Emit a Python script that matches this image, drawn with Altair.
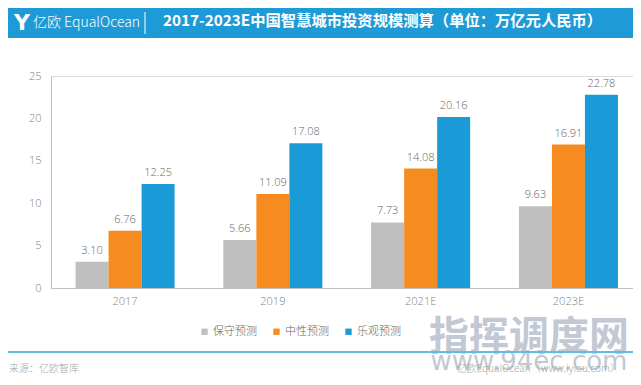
import altair as alt
import pandas as pd

years = ["2017", "2019", "2021E", "2023E"]
series = ["保守预测", "中性预测", "乐观预测"]
conservative = [3.10, 5.66, 7.73, 9.63]
neutral = [6.76, 11.09, 14.08, 16.91]
optimistic = [12.25, 17.08, 20.16, 22.78]
colors = ["#BFBFBF", "#F68B1F", "#1B9AD8"]
y_ticks = [0, 5, 10, 15, 20, 25]

title_text = "2017-2023E中国智慧城市投资规模测算（单位：万亿元人民币）"
source_text = "来源：亿欧智库"
brand_text = "亿欧 EqualOcean"
credit_text = "亿欧EqualOcean（www.iyiou.com）"
wm1 = "指挥调度网"
wm2 = "www.94ec.com"

rows = []
for name, vals in zip(series, [conservative, neutral, optimistic]):
    for yr, v in zip(years, vals):
        rows.append({"year": yr, "series": name, "value": v, "label": f"{v:.2f}"})
df = pd.DataFrame(rows)

W, H = 582, 212
FONT = "Noto Sans CJK SC"

base = alt.Chart(df).encode(
    x=alt.X("year:N", sort=years, title=None,
            scale=alt.Scale(paddingInner=0.33, paddingOuter=0.134, align=0.62),
            axis=alt.Axis(labelAngle=0, ticks=False, domainColor="#BFBFBF",
                          labelColor="#7F7F7F", labelFontSize=11, labelPadding=7,
                          labelFont="Open Sans", labelFontWeight=300, grid=False)),
    xOffset=alt.XOffset("series:N", sort=series,
                        scale=alt.Scale(paddingInner=0, paddingOuter=0)),
    y=alt.Y("value:Q", title=None,
            scale=alt.Scale(domain=[0, 25], nice=False),
            axis=alt.Axis(values=y_ticks, ticks=False, domainColor="#BFBFBF",
                          labelColor="#7F7F7F", labelFontSize=11, labelPadding=10,
                          labelFont="Open Sans", labelFontWeight=300, grid=False)),
)

bars = base.mark_bar().encode(
    color=alt.Color("series:N", sort=series,
                    scale=alt.Scale(domain=series, range=colors),
                    legend=alt.Legend(title=None, orient="none", legendX=148, legendY=250,
                                      direction="horizontal", symbolType="square",
                                      symbolSize=40, symbolStrokeWidth=0,
                                      labelFontSize=11, labelColor="#666666",
                                      labelFont=FONT, labelFontWeight=300,
                                      columnPadding=14, labelOffset=3))
)

labels = base.mark_text(baseline="bottom", dy=-6, fontSize=11, color="#666666",
                        font="Open Sans", fontWeight=300).encode(text="label:N")

one = pd.DataFrame({"k": [0]})

def deco_text(text, x, y, **kw):
    return alt.Chart(one).mark_text(text=text, **kw).encode(x=alt.value(x), y=alt.value(y))

header = alt.Chart(one).mark_rect(color="#1E9BD7").encode(
    x=alt.value(-43), x2=alt.value(W), y=alt.value(-68), y2=alt.value(-38))
sep = alt.Chart(one).mark_rule(color="#FFFFFF", strokeWidth=1).encode(
    x=alt.value(94), y=alt.value(-64), y2=alt.value(-42))
bottom_line = alt.Chart(one).mark_rule(color="#62BBE3", strokeWidth=2).encode(
    x=alt.value(-43), x2=alt.value(W), y=alt.value(276))

logo = deco_text("Y", -29, -53, fontSize=22, color="#FFFFFF", font="DejaVu Sans",
                 fontWeight="bold", align="center", baseline="middle")
brand = deco_text(brand_text, -18, -53, fontSize=14, color="#FFFFFF", font=FONT,
                  fontWeight=300, align="left", baseline="middle")
title = deco_text(title_text, 112, -55, fontSize=15.3, color="#FFFFFF", font=FONT,
                  fontWeight="bold", align="left", baseline="middle")
source = deco_text(source_text, -42, 293, fontSize=10, color="#A6A6A6", font=FONT,
                   fontWeight=300, align="left", baseline="middle")
watermark1 = deco_text(wm1, 478, 262, fontSize=40, color="#A9B1C2", font=FONT,
                       fontWeight="bold", align="center", baseline="middle", opacity=0.7)
watermark2 = deco_text(wm2, 478, 286, fontSize=26, color="#A9B1C2", font="DejaVu Sans",
                       align="center", baseline="middle", opacity=0.7)
credit = deco_text(credit_text, 569, 293, fontSize=10, color="#A6A6A6", font=FONT,
                   fontWeight=300, align="right", baseline="middle")

chart = alt.layer(
    header, sep, logo, brand, title,
    bars, labels,
    watermark1, watermark2, bottom_line, source, credit,
).properties(
    width=W, height=H,
    padding={"left": 43, "top": 68, "right": 0, "bottom": 89},
    autosize="none",
).configure_view(stroke=None).configure(background="#FFFFFF")

chart.save("out.html", embed_options={"renderer": "svg", "actions": False})
